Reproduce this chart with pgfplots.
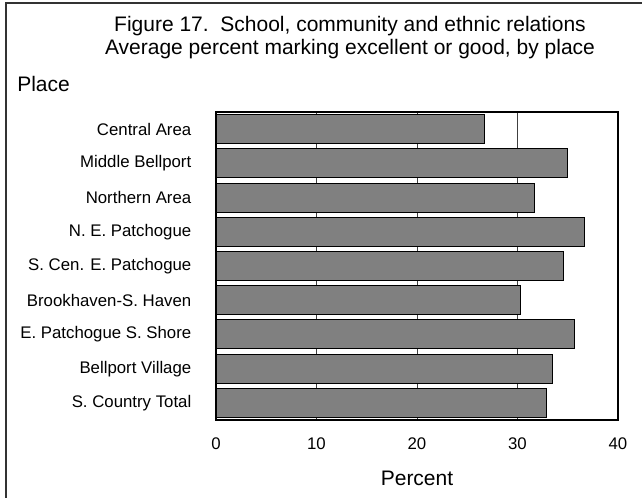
\documentclass[border=0pt]{standalone}
\usepackage{pgfplots}
\pgfplotsset{compat=1.18}
\usepackage{fontspec}
\setmainfont{Liberation Sans}
\definecolor{barfill}{RGB}{128,128,128}
\begin{document}
\begin{tikzpicture}
\useasboundingbox (0pt,0pt) rectangle (481.5pt,372.75pt);
\draw[line width=0.9pt, black!80] (4.5pt,-2pt) -- (4.5pt,370.5pt) -- (484pt,370.5pt);
\node[inner sep=0pt, align=center, font=\fontsize{15.75}{17.25}\selectfont] at (262.5pt,344.25pt)
  {Figure 17.\ \ School, community and ethnic relations\\Average percent marking excellent or good, by place};
\node[inner sep=0pt, anchor=west, font=\fontsize{15.75}{18}\selectfont] at (12.75pt,309.75pt) {Place};
\node[inner sep=0pt, font=\fontsize{15.75}{18}\selectfont] at (312.75pt,14.25pt) {Percent};
\begin{axis}[
  at={(162pt,57.75pt)}, anchor=south west,
  scale only axis, width=301.5pt, height=231pt,
  xbar, bar width=21.75pt,
  xmin=0, xmax=40, ymin=0.5, ymax=9.5,
  y dir=reverse,
  xtick={0,10,20,30,40},
  ytick={1,...,9},
  yticklabels={Central Area, Middle Bellport, Northern Area, N. E. Patchogue, S. Cen. E. Patchogue, Brookhaven-S. Haven, E. Patchogue S. Shore, Bellport Village, S. Country Total},
  major tick length=0pt,
  xmajorgrids, major grid style={black!75, line width=0.6pt},
  axis line style={black, line width=1pt},
  tick label style={font=\fontsize{12.6}{14}\selectfont},
  /pgf/number format/assume math mode=true,
  xticklabel style={yshift=-10pt},
  yticklabel style={xshift=-15pt},
]
\addplot[fill=barfill, draw=black, line width=0.75pt] coordinates {
(26.7,1) (35.0,2) (31.7,3) (36.7,4) (34.6,5) (30.3,6) (35.7,7) (33.5,8) (32.9,9)
};
\end{axis}
\end{tikzpicture}
\end{document}
